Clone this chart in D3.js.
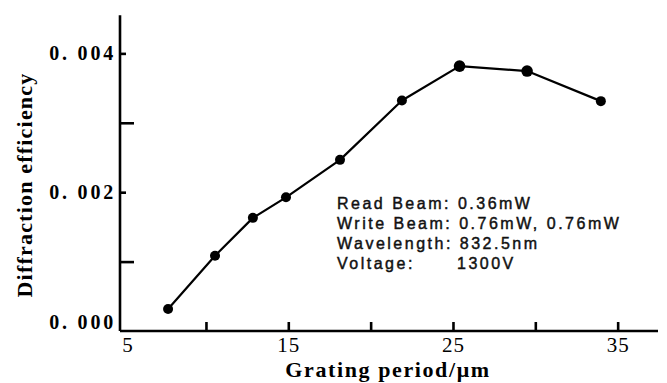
<!DOCTYPE html>
<html>
<head>
<meta charset="utf-8">
<script src="https://cdn.jsdelivr.net/npm/d3@7"></script>
<style>
  html, body { margin: 0; padding: 0; background: #fff; }
  svg { display: block; }
</style>
</head>
<body>
<svg></svg>
<script>
// grating period (um) and measured diffraction efficiency
const period = [7.7, 10.55, 12.85, 14.86, 18.14, 21.9, 25.4, 29.5, 33.98];
const efficiency = [0.000316, 0.001085, 0.00163, 0.001926, 0.002466, 0.003322, 0.003817, 0.003745, 0.003312];

const xTicks = [10, 15, 20, 25, 30, 35];
const xLabels = [5, 15, 25, 35];
const yTicks = [0.001, 0.002, 0.003, 0.004];
const yLabels = [0, 0.002, 0.004];

const notes = [
	['Read Beam: ', '0.36mW'],
	['Write Beam: ', '0.76mW, 0.76mW'],
	['Wavelength: ', '832.5nm'],
	['Voltage:', '1300V']
];

let data = period.map((p, i) => ({ x: p, y: efficiency[i] }));

drawChart = (data) => {
	let svgWidth = 667,
		svgHeight = 383;
	let svg = d3.select('svg').attr('width', svgWidth).attr('height', svgHeight);

	let serif = "'Liberation Serif', 'DejaVu Serif', serif";
	let sans = "'Liberation Sans', Arial, sans-serif";

	let x = d3.scaleLinear().domain([4.78, 37.45]).range([120, 658]);
	let y = d3.scaleLinear().domain([0, 0.00455]).range([331, 15.2]);

	// x axis: ticks pointing up into the plot
	let xa = svg.append('g')
		.attr('transform', 'translate(0,' + y(0) + ')')
		.call(d3.axisTop(x).tickValues(xTicks).tickSize(9).tickFormat(''));
	xa.select('.domain').attr('d', 'M' + x.range()[0] + ',0H' + x.range()[1]);
	xa.selectAll('path, line').attr('stroke', '#000').attr('stroke-width', 2.6);

	svg.append('g')
		.attr('transform', 'translate(0,' + y(0) + ')')
		.call(d3.axisBottom(x).tickValues(xLabels).tickSize(0).tickPadding(6))
		.call((g) => g.select('.domain').remove())
		.selectAll('text')
		.attr('font-family', serif)
		.attr('font-size', 21)
		.attr('letter-spacing', 1)
		.attr('fill', '#000')
		.attr('dx', (d) => (d === 5 ? 4 : 0));

	// y axis: ticks pointing right into the plot
	let ya = svg.append('g')
		.attr('transform', 'translate(' + x.range()[0] + ',0)')
		.call(d3.axisRight(y).tickValues(yTicks).tickSize(6).tickFormat(''));
	ya.select('.domain').attr('d', 'M0,' + y(0) + 'V' + y.range()[1]);
	ya.selectAll('.tick line').attr('x2', (d) => (Math.round(d * 1000) % 2 === 1 ? 14 : 6));
	ya.selectAll('path, line').attr('stroke', '#000').attr('stroke-width', 2.6);

	svg.append('g')
		.attr('transform', 'translate(' + (x.range()[0] - 4) + ',0)')
		.call(d3.axisLeft(y).tickValues(yLabels).tickSize(0).tickPadding(0)
			.tickFormat((d) => d3.format('.3f')(d).replace('.', '. ')))
		.call((g) => g.select('.domain').remove())
		.selectAll('text')
		.attr('font-family', serif)
		.attr('font-size', 20)
		.attr('font-weight', 'bold')
		.attr('letter-spacing', 2.8)
		.attr('fill', '#000')
		.attr('dy', (d) => (d === 0 ? '-0.12em' : '0.32em'));

	// axis titles
	svg.append('text')
		.attr('x', 388)
		.attr('y', 377)
		.attr('text-anchor', 'middle')
		.attr('font-family', serif)
		.attr('font-size', 22)
		.attr('font-weight', 'bold')
		.attr('letter-spacing', 1.6)
		.text('Grating period/\u03bcm');

	svg.append('text')
		.attr('transform', 'translate(32,185) rotate(-90)')
		.attr('text-anchor', 'middle')
		.attr('font-family', serif)
		.attr('font-size', 22)
		.attr('font-weight', 'bold')
		.attr('letter-spacing', 1.2)
		.text('Diffraction efficiency');

	// data line and markers
	let line = d3.line()
		.x((d) => x(d.x))
		.y((d) => y(d.y));

	svg.append('path')
		.datum(data)
		.attr('fill', 'none')
		.attr('stroke', '#000')
		.attr('stroke-width', 2.2)
		.attr('stroke-linejoin', 'round')
		.attr('d', line);

	svg.append('g')
		.selectAll('circle')
		.data(data)
		.join('circle')
		.attr('cx', (d) => x(d.x))
		.attr('cy', (d) => y(d.y))
		.attr('r', (d) => (d.y > 0.0037 ? 5.8 : 5))
		.attr('fill', '#000');

	// experimental conditions
	let notesG = svg.append('g')
		.attr('font-family', sans)
		.attr('font-size', 16)
		.attr('letter-spacing', 2.5)
		.attr('fill', '#111')
		.attr('stroke', '#111')
		.attr('stroke-width', 0.45);

	notes.forEach((n, i) => {
		let t = notesG.append('text').attr('y', 209 + i * 20);
		if (i === 3) {
			t.append('tspan').attr('x', 337).text(n[0]);
			t.append('tspan').attr('x', 457).text(n[1]);
		} else {
			t.attr('x', 337).text(n[0] + n[1]);
		}
	});
};

drawChart(data);
</script>
</body>
</html>
